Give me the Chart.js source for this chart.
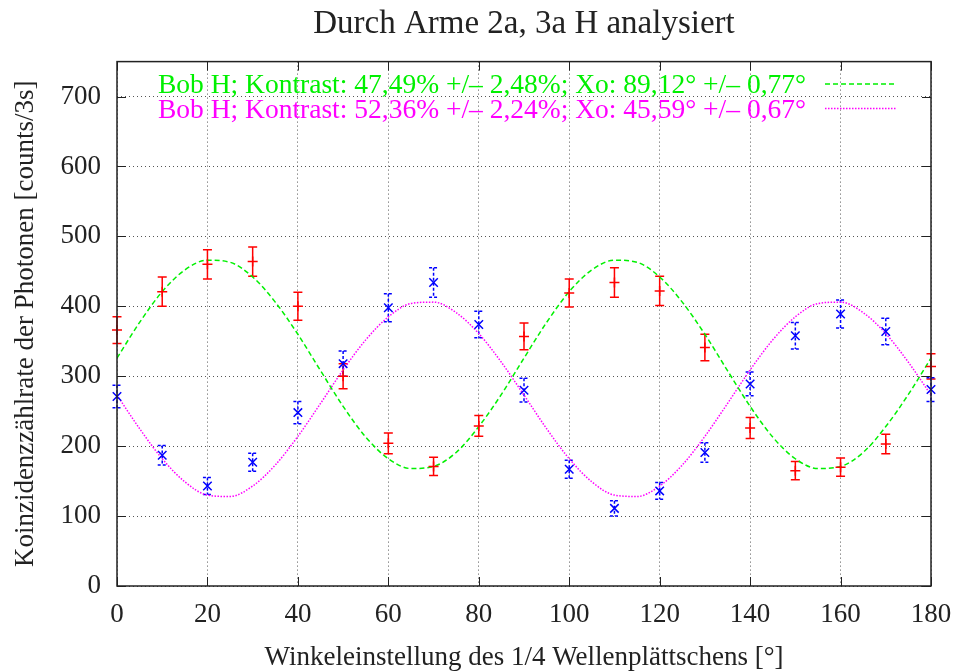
<!DOCTYPE html>
<html>
<head>
<meta charset="utf-8">
<script src="https://cdn.jsdelivr.net/npm/chart.js@4.4.0/dist/chart.umd.min.js"></script>
<style>
  html, body { margin: 0; padding: 0; background: #fff; }
  canvas { display: block; }
</style>
</head>
<body>
<canvas id="chart" width="955" height="671"></canvas>
<script>
const angles = [0, 10, 20, 30, 40, 50, 60, 70, 80, 90, 100, 110, 120, 130, 140, 150, 160, 170, 180];
const redCounts = [366, 421, 460, 464, 400, 300, 204, 171, 229, 357, 419, 434, 422, 341, 226, 165, 170, 203, 314];
const redErrors = [19, 21, 21, 21, 20, 18, 15, 13, 15, 19, 20, 21, 21, 19, 15, 13, 13, 14, 18];
const blueCounts = [271, 187, 143, 177, 248, 318, 398, 434, 374, 280, 167, 111, 136, 191, 289, 358, 389, 364, 281];
const blueErrors = [16, 14, 12, 13, 16, 18, 20, 21, 19, 17, 13, 11, 12, 14, 17, 19, 20, 19, 17];

const fitAngles = [0, 5, 10, 15, 20, 25, 30, 35, 40, 45, 50, 55, 60, 65, 70, 75, 80, 85, 90,
  95, 100, 105, 110, 115, 120, 125, 130, 135, 140, 145, 150, 155, 160, 165, 170, 175, 180];
const greenFit = [326, 377, 421, 452, 466, 463, 442, 406, 360, 308, 257, 213, 182, 168, 171, 191, 228, 274, 326,
  377, 421, 452, 466, 463, 442, 406, 360, 308, 257, 213, 182, 168, 171, 191, 228, 274, 326];
const magentaFit = [273, 225, 182, 149, 130, 128, 143, 173, 214, 261, 309, 352, 385, 404, 406, 391, 361, 320, 273,
  225, 182, 149, 130, 128, 143, 173, 214, 261, 309, 352, 385, 404, 406, 391, 361, 320, 273];

const xTicks = [0, 20, 40, 60, 80, 100, 120, 140, 160, 180];
const yTicks = [0, 100, 200, 300, 400, 500, 600, 700];
const legendLabels = [
  'Bob H; Kontrast: 47,49% +/\u2013 2,48%; Xo: 89,12° +/\u2013 0,77°',
  'Bob H; Kontrast: 52,36% +/\u2013 2,24%; Xo: 45,59° +/\u2013 0,67°'
];

const serif = '"Liberation Serif", "DejaVu Serif", serif';
const textColor = '#222';

const toXY = (xs, ys) => xs.map((x, i) => ({ x: x, y: ys[i] }));

// vertikale Fehlerbalken mit Querstrichen
const errorBars = {
  id: 'errorBars',
  beforeDatasetsDraw(chart) {
    const { ctx, scales: { x, y } } = chart;
    chart.data.datasets.forEach(ds => {
      if (!ds.errors) return;
      ctx.save();
      ctx.strokeStyle = ds.borderColor;
      ctx.lineWidth = 1.5;
      ctx.setLineDash(ds.errorDash || []);
      ds.data.forEach((p, j) => {
        const px = x.getPixelForValue(p.x);
        const top = y.getPixelForValue(p.y + ds.errors[j]);
        const bot = y.getPixelForValue(p.y - ds.errors[j]);
        ctx.beginPath();
        ctx.moveTo(px, top); ctx.lineTo(px, bot);
        ctx.moveTo(px - 4.5, top); ctx.lineTo(px + 4.5, top);
        ctx.moveTo(px - 4.5, bot); ctx.lineTo(px + 4.5, bot);
        ctx.stroke();
      });
      ctx.restore();
    });
  }
};

// Rahmen, Ticks nach innen und Legende oben rechts (gnuplot-Stil)
const frame = {
  id: 'frame',
  afterDraw(chart) {
    const { ctx, chartArea: a, scales: { x, y } } = chart;
    ctx.save();
    ctx.strokeStyle = textColor;
    ctx.lineWidth = 1;
    ctx.beginPath();
    xTicks.forEach(v => {
      const px = Math.round(x.getPixelForValue(v)) + 0.5;
      ctx.moveTo(px, a.bottom); ctx.lineTo(px, a.bottom - 9);
      ctx.moveTo(px, a.top); ctx.lineTo(px, a.top + 9);
    });
    yTicks.forEach(v => {
      const py = Math.round(y.getPixelForValue(v)) + 0.5;
      ctx.moveTo(a.left, py); ctx.lineTo(a.left + 9, py);
      ctx.moveTo(a.right, py); ctx.lineTo(a.right - 9, py);
    });
    ctx.stroke();
    ctx.lineWidth = 1.5;
    ctx.strokeRect(a.left, a.top, a.right - a.left, a.bottom - a.top);

    // Legende
    ctx.font = '27.5px ' + serif;
    ctx.textAlign = 'right';
    ctx.textBaseline = 'alphabetic';
    let row = 0;
    chart.data.datasets.forEach(ds => {
      if (!ds.showLine) return;
      const base = 93 + row * 24.5;
      ctx.fillStyle = ds.borderColor;
      ctx.fillText(ds.label, 806, base);
      ctx.strokeStyle = ds.borderColor;
      ctx.lineWidth = ds.borderWidth;
      ctx.setLineDash(ds.borderDash);
      ctx.beginPath();
      ctx.moveTo(825, base - 9);
      ctx.lineTo(897, base - 9);
      ctx.stroke();
      row++;
    });
    ctx.restore();
  }
};

new Chart(document.getElementById('chart'), {
  type: 'scatter',
  data: {
    datasets: [
      {
        label: 'Bob H (rot)',
        data: toXY(angles, redCounts),
        errors: redErrors,
        borderColor: '#ff0000',
        backgroundColor: '#ff0000',
        pointStyle: 'cross',
        pointRadius: 5,
        pointBorderWidth: 1.5,
        clip: false
      },
      {
        label: 'Bob H (blau)',
        data: toXY(angles, blueCounts),
        errors: blueErrors,
        errorDash: [3, 2],
        borderColor: '#0000ff',
        backgroundColor: '#0000ff',
        pointStyle: 'crossRot',
        pointRadius: 6,
        pointBorderWidth: 1.5,
        clip: false
      },
      {
        label: legendLabels[0],
        data: toXY(fitAngles, greenFit),
        showLine: true,
        borderColor: '#00f000',
        borderWidth: 1.5,
        borderDash: [5, 3],
        pointRadius: 0,
        cubicInterpolationMode: 'monotone',
        fill: false
      },
      {
        label: legendLabels[1],
        data: toXY(fitAngles, magentaFit),
        showLine: true,
        borderColor: '#ff00ff',
        borderWidth: 1.5,
        borderDash: [1.5, 1.5],
        pointRadius: 0,
        cubicInterpolationMode: 'monotone',
        fill: false
      }
    ]
  },
  options: {
    responsive: false,
    animation: false,
    devicePixelRatio: 1,
    layout: { padding: { left: 0, right: 24, top: 0, bottom: 0 } },
    plugins: {
      legend: { display: false },
      tooltip: { enabled: false },
      title: {
        display: true,
        text: 'Durch Arme 2a, 3a H analysiert',
        fullSize: false,
        color: textColor,
        font: { family: serif, size: 33, weight: 'normal', lineHeight: 1.2 },
        padding: { top: 5, bottom: 17 }
      }
    },
    scales: {
      x: {
        type: 'linear',
        min: 0,
        max: 180,
        afterBuildTicks: s => { s.ticks = xTicks.map(v => ({ value: v })); },
        afterFit: s => { s.height = 85; s.paddingLeft = 0; s.paddingRight = 0; },
        ticks: { color: textColor, font: { family: serif, size: 27 }, padding: 13, maxRotation: 0 },
        grid: { color: '#555', lineWidth: 1, drawTicks: false },
        border: { display: false, dash: [1, 3] },
        title: {
          display: true,
          text: 'Winkeleinstellung des 1/4 Wellenplättschens [°]',
          color: textColor,
          font: { family: serif, size: 27, lineHeight: 1 },
          padding: { top: 0, bottom: 0 }
        }
      },
      y: {
        type: 'linear',
        min: 0,
        max: 750,
        afterBuildTicks: s => { s.ticks = yTicks.map(v => ({ value: v })); },
        afterFit: s => { s.width = 117; s.paddingTop = 0; s.paddingBottom = 0; },
        ticks: { color: textColor, font: { family: serif, size: 27 }, padding: 16 },
        grid: { color: '#555', lineWidth: 1, drawTicks: false },
        border: { display: false, dash: [1, 3] },
        title: {
          display: true,
          text: 'Koinzidenzzählrate der Photonen [counts/3s]',
          color: textColor,
          font: { family: serif, size: 27, lineHeight: 1 },
          padding: { top: 12, bottom: 0 }
        }
      }
    }
  },
  plugins: [errorBars, frame]
});
</script>
</body>
</html>
